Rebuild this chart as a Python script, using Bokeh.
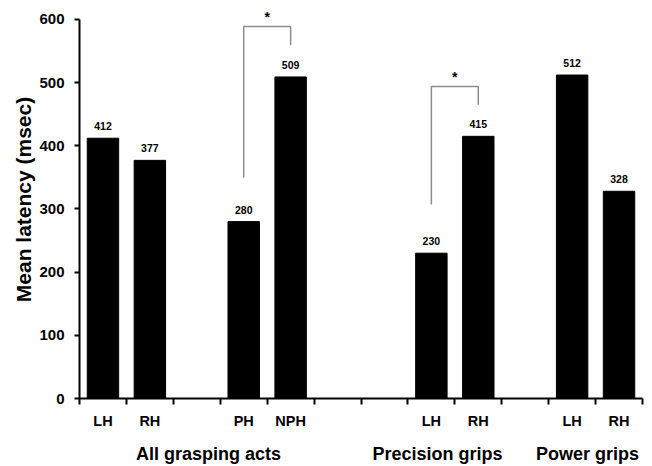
from bokeh.plotting import figure
from bokeh.models import Range1d, FixedTicker, LinearAxis
from bokeh.core.properties import value
from bokeh.embed import file_html
from bokeh.resources import INLINE

# ---- data ----
slot_labels = ["LH", "RH", "", "PH", "NPH", "", "", "LH", "RH", "", "LH", "RH"]
bar_slots = [0, 1, 3, 4, 7, 8, 10, 11]
bar_values = [412, 377, 280, 509, 230, 415, 512, 328]
group_names = ["All grasping acts", "Precision grips", "Power grips"]
group_pos = [2.75, 7.63, 10.83]
y_ticks = [0, 100, 200, 300, 400, 500, 600]

# significance brackets: (left slot, right slot, left-arm bottom, top, right-arm bottom)
br_left = [3, 7]
br_right = [4, 8]
br_left_bottom = [350, 307]
br_top = [589, 494]
br_right_bottom = [559, 465]

FONT = "Liberation Sans"

p = figure(width=652, height=466, output_backend="svg", toolbar_location=None,
           x_range=Range1d(0, 12), y_range=Range1d(0, 630),
           min_border_left=79, min_border_right=10, min_border_top=0,
           min_border_bottom=0, x_axis_location=None, y_axis_location=None)
p.outline_line_color = None
p.xgrid.visible = False
p.ygrid.visible = False
p.background_fill_color = "white"
p.border_fill_color = "white"

xc = [s + 0.5 for s in bar_slots]
p.vbar(x=xc, top=bar_values, width=0.67, bottom=0, color="black")
p.text(x=xc, y=bar_values, text=[str(v) for v in bar_values], y_offset=-12,
       text_align="center", text_baseline="middle", text_font=value(FONT),
       text_font_style="bold", text_font_size="10.5px", text_color="black")

# brackets
for l, r, lb, t, rb in zip(br_left, br_right, br_left_bottom, br_top, br_right_bottom):
    lx, rx = l + 0.5, r + 0.5
    p.line(x=[lx, lx, rx, rx], y=[lb, t, t, rb], line_color="#8c8c8c", line_width=1.5)
star_x = [(l + r) / 2 + 0.5 for l, r in zip(br_left, br_right)]
p.text(x=star_x, y=br_top, text=["*"] * len(br_top), y_offset=-9,
       text_align="center", text_baseline="middle", text_font=value(FONT),
       text_font_style="bold", text_font_size="14px", text_color="black")

# y axis
ya = LinearAxis(ticker=FixedTicker(ticks=y_ticks), bounds=(0, 600),
                axis_label="Mean latency (msec)")
ya.axis_line_width = 2
ya.axis_line_color = "black"
ya.major_tick_line_width = 2
ya.major_tick_line_color = "black"
ya.major_tick_out = 5
ya.major_tick_in = 0
ya.minor_tick_line_color = None
ya.major_label_standoff = 10
ya.major_label_text_font = FONT
ya.major_label_text_font_style = "bold"
ya.major_label_text_font_size = "15px"
ya.major_label_text_color = "black"
ya.axis_label_text_font = FONT
ya.axis_label_text_font_style = "bold"
ya.axis_label_text_font_size = "21px"
ya.axis_label_text_color = "black"
ya.axis_label_standoff = 1
p.add_layout(ya, "left")

# x axis with category labels (major, hidden ticks) and boundary ticks (minor)
centers = [i + 0.5 for i in range(len(slot_labels))]
xa = LinearAxis(ticker=FixedTicker(ticks=centers, minor_ticks=list(range(len(slot_labels) + 1))),
                bounds=(0, 12))
xa.major_label_overrides = {c: lab for c, lab in zip(centers, slot_labels)}
xa.axis_line_width = 2
xa.axis_line_color = "black"
xa.major_tick_line_color = None
xa.major_tick_out = 0
xa.major_tick_in = 0
xa.minor_tick_line_width = 2
xa.minor_tick_line_color = "black"
xa.minor_tick_out = 6
xa.minor_tick_in = 0
xa.major_label_standoff = 8
xa.major_label_text_font = FONT
xa.major_label_text_font_style = "bold"
xa.major_label_text_font_size = "14.5px"
xa.major_label_text_color = "black"
p.add_layout(xa, "below")

ga = LinearAxis(ticker=FixedTicker(ticks=group_pos), bounds=(0, 12))
ga.major_label_overrides = {g: n for g, n in zip(group_pos, group_names)}
ga.axis_line_color = None
ga.major_tick_line_color = None
ga.minor_tick_line_color = None
ga.major_tick_out = 0
ga.major_tick_in = 0
ga.major_label_standoff = 12
ga.major_label_text_font = FONT
ga.major_label_text_font_style = "bold"
ga.major_label_text_font_size = "18px"
ga.major_label_text_color = "black"
p.add_layout(ga, "below")

open("out.html", "w").write(file_html(p, INLINE))
